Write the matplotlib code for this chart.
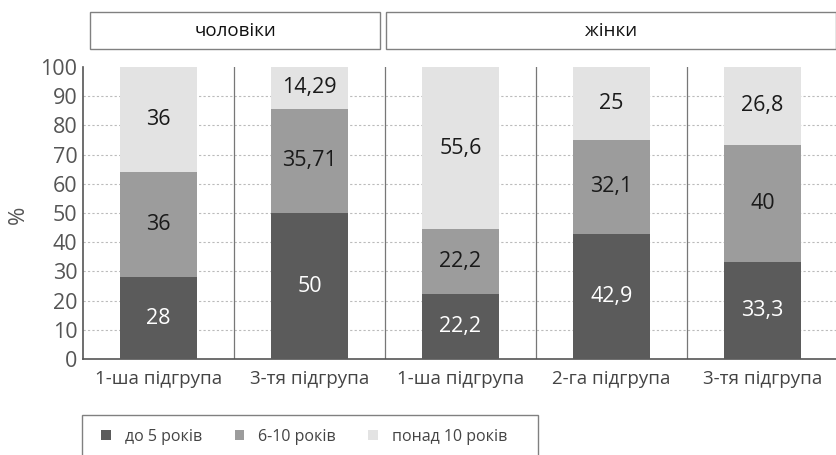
import matplotlib
matplotlib.use("Agg")
import matplotlib.pyplot as plt
from matplotlib.patches import Rectangle

plt.rcParams['font.family'] = ['Open Sans', 'DejaVu Sans']

categories = ["1-ша підгрупа", "3-тя підгрупа", "1-ша підгрупа", "2-га підгрупа", "3-тя підгрупа"]
under5 = [28, 50, 22.2, 42.9, 33.3]
y6_10 = [36, 35.71, 22.2, 32.1, 40]
over10 = [36, 14.29, 55.6, 25, 26.8]
under5_lbl = ["28", "50", "22,2", "42,9", "33,3"]
y6_10_lbl = ["36", "35,71", "22,2", "32,1", "40"]
over10_lbl = ["36", "14,29", "55,6", "25", "26,8"]
series_names = ["до 5 років", "6-10 років", "понад 10 років"]
groups = ["чоловіки", "жінки"]

W, H = 837, 455
fig = plt.figure(figsize=(W / 100, H / 100), dpi=100)
ax = fig.add_axes([83 / W, 1 - 359 / H, 755 / W, 292 / H])

c_dark, c_mid, c_light = "#5b5b5b", "#9c9c9c", "#e3e3e3"
x = list(range(len(categories)))
bw = 0.51
b1 = ax.bar(x, under5, bw, color=c_dark, label=series_names[0], zorder=3)
b2 = ax.bar(x, y6_10, bw, bottom=under5, color=c_mid, label=series_names[1], zorder=3)
bot3 = [a + b for a, b in zip(under5, y6_10)]
b3 = ax.bar(x, over10, bw, bottom=bot3, color=c_light, label=series_names[2], zorder=3)

fs = 15.5
for i in x:
    ax.text(i, under5[i] / 2, under5_lbl[i], ha='center', va='center', color='white', fontsize=fs, zorder=4)
    ax.text(i, under5[i] + y6_10[i] / 2, y6_10_lbl[i], ha='center', va='center', color='#1a1a1a', fontsize=fs, zorder=4)
    ax.text(i, bot3[i] + over10[i] / 2, over10_lbl[i], ha='center', va='center', color='#1a1a1a', fontsize=fs, zorder=4)

ax.set_xlim(-0.5, len(categories) - 0.5)
ax.set_ylim(0, 100)
ax.set_yticks(range(0, 101, 10))
ax.set_xticks(x)
ax.set_xticklabels(categories)
ax.tick_params(axis='y', length=0, labelsize=15.5, labelcolor='#555555', pad=4)
ax.tick_params(axis='x', length=0, labelsize=13.5, labelcolor='#444444', pad=8)
for v in range(10, 100, 10):
    ax.axhline(v, color='#bbbbbb', lw=0.8, ls=(0, (2, 2)), zorder=1)
for s in [0.5, 1.5, 2.5, 3.5]:
    ax.plot([s, s], [0, 100], color='#777777', lw=0.9, zorder=2)
for sp in ['top', 'right']:
    ax.spines[sp].set_visible(False)
for sp in ['left', 'bottom']:
    ax.spines[sp].set_color('#555555')
    ax.spines[sp].set_linewidth(1.2)

fig.text(18 / W, 1 - 215 / H, "%", rotation=90, ha='center', va='center', fontsize=16, color='#555555')

# group header boxes
y0 = 1 - 49 / H
hgt = 37 / H
box_px = [(90, 380), (386, 836)]
for (l, r), g in zip(box_px, groups):
    rect = Rectangle((l / W, y0), (r - l) / W, hgt, transform=fig.transFigure, fill=False,
                     edgecolor='#808080', lw=1.0)
    fig.add_artist(rect)
    fig.text((l + r) / 2 / W, y0 + hgt / 2, g, ha='center', va='center', fontsize=13.5,
             color='#111111', fontweight='medium')

# legend
lrect = Rectangle((82 / W, -0.05), (538 - 82) / W, (1 - 415 / H) + 0.05, transform=fig.transFigure,
                  fill=False, edgecolor='#808080', lw=1.0)
fig.add_artist(lrect)
fig.legend(handles=[b1, b2, b3], labels=series_names, loc='center left',
           bbox_to_anchor=(87 / W, 1 - 437 / H), ncol=3, frameon=False,
           handlelength=0.6, handleheight=0.6, handletextpad=0.9, columnspacing=2.0,
           fontsize=11.5, labelcolor='#444444')

fig.savefig("out.png", dpi=100)
